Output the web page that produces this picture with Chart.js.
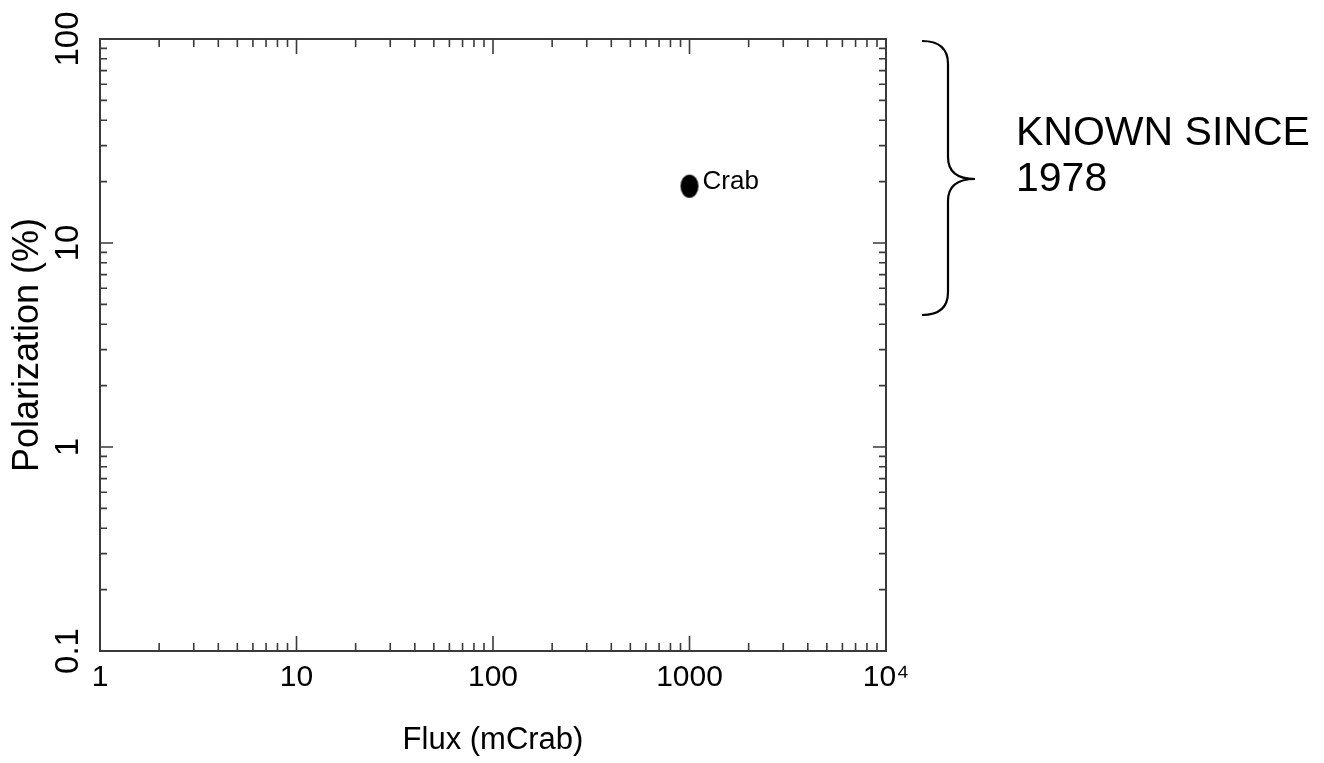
<!DOCTYPE html>
<html>
<head>
<meta charset="utf-8">
<title>Polarization vs Flux</title>
<script src="https://cdn.jsdelivr.net/npm/chart.js@4.4.1/dist/chart.umd.min.js"></script>
<style>
  html, body { margin: 0; padding: 0; background: #fff; }
  #wrap { width: 1324px; height: 763px; }
</style>
</head>
<body>
<div id="wrap"><canvas id="chart" width="1324" height="763"></canvas></div>
<script>
/* ── 1. DATA ──────────────────────────────────── */

const SOURCES      = ['Crab'];
const FLUX         = [1000];   // mCrab
const POLARIZATION = [19];     // %

const X_TICKS       = [1, 10, 100, 1000, 10000];
const X_TICK_LABELS = ['1', '10', '100', '1000', '10⁴'];
const Y_TICKS       = [0.1, 1, 10, 100];
const Y_TICK_LABELS = ['0.1', '1', '10', '100'];
const MINOR_STEPS   = [2, 3, 4, 5, 6, 7, 8, 9];

const NOTE_LINES = ['KNOWN SINCE', '1978'];

const FONT = "'Liberation Sans', Arial, Helvetica, sans-serif";
const AXIS_COLOR = '#3a3a3a';

/* ── 2. HELPERS ───────────────────────────────── */

// slightly tall filled dot, like the original marker
function makeDot() {
  const c = document.createElement('canvas');
  c.width = 20; c.height = 25;
  const g = c.getContext('2d');
  g.fillStyle = '#000';
  g.beginPath();
  g.ellipse(10, 12.5, 9, 11.5, 0, 0, Math.PI * 2);
  g.fill();
  return c;
}

function minorValues(decades) {
  const out = [];
  decades.slice(0, -1).forEach(d => MINOR_STEPS.forEach(m => out.push(d * m)));
  return out;
}

/* ── 3. PLUGINS ───────────────────────────────── */

// box frame with inward ticks on all four sides
const framePlugin = {
  id: 'frame',
  afterDraw(chart) {
    const { ctx, chartArea: a, scales: { x, y } } = chart;
    ctx.save();
    ctx.strokeStyle = AXIS_COLOR;
    ctx.lineWidth = 2;
    ctx.strokeRect(a.left, a.top, a.right - a.left, a.bottom - a.top);

    ctx.lineWidth = 1.6;
    ctx.beginPath();
    const xTick = (v, len) => {
      const px = x.getPixelForValue(v);
      ctx.moveTo(px, a.bottom); ctx.lineTo(px, a.bottom - len);
      ctx.moveTo(px, a.top);    ctx.lineTo(px, a.top + len);
    };
    const yTick = (v, len) => {
      const py = y.getPixelForValue(v);
      ctx.moveTo(a.left, py);  ctx.lineTo(a.left + len, py);
      ctx.moveTo(a.right, py); ctx.lineTo(a.right - len, py);
    };
    X_TICKS.forEach(v => xTick(v, 15));
    minorValues(X_TICKS).forEach(v => xTick(v, 8));
    Y_TICKS.forEach(v => yTick(v, 13));
    minorValues(Y_TICKS).forEach(v => yTick(v, 7));
    ctx.stroke();
    ctx.restore();
  }
};

// source names, brace and side note
const notesPlugin = {
  id: 'notes',
  afterDatasetsDraw(chart) {
    const ctx = chart.ctx;
    const meta = chart.getDatasetMeta(0);
    ctx.save();
    ctx.fillStyle = '#000';
    ctx.font = `26px ${FONT}`;
    ctx.textBaseline = 'alphabetic';
    meta.data.forEach((pt, i) => ctx.fillText(SOURCES[i], pt.x + 13, pt.y + 3));

    // curly brace
    ctx.strokeStyle = '#000';
    ctx.lineWidth = 2.2;
    ctx.beginPath();
    ctx.moveTo(922, 41);
    ctx.quadraticCurveTo(948, 41, 948, 64);
    ctx.lineTo(948, 157);
    ctx.quadraticCurveTo(948, 179, 975, 179);
    ctx.quadraticCurveTo(948, 179, 948, 201);
    ctx.lineTo(948, 292);
    ctx.quadraticCurveTo(948, 315, 922, 315);
    ctx.stroke();

    ctx.font = `41px ${FONT}`;
    ctx.fillText(NOTE_LINES[0], 1016, 145);
    ctx.fillText(NOTE_LINES[1], 1016, 191);
    ctx.restore();
  }
};

/* ── 4. CHART ─────────────────────────────────── */

new Chart(document.getElementById('chart'), {
  type: 'scatter',
  data: {
    datasets: [{
      label: 'Sources',
      data: FLUX.map((f, i) => ({ x: f, y: POLARIZATION[i] })),
      pointStyle: makeDot(),
      pointRadius: 10,
      showLine: false
    }]
  },
  options: {
    responsive: false,
    animation: false,
    devicePixelRatio: 1,
    layout: { padding: { left: 0, top: 39, right: 438, bottom: 0 } },
    plugins: { legend: { display: false }, tooltip: { enabled: false } },
    scales: {
      x: {
        type: 'logarithmic',
        min: 1, max: 10000,
        afterBuildTicks: s => { s.ticks = X_TICKS.map(v => ({ value: v })); },
        afterFit: s => { s.height = 112; },
        grid: { display: false, drawTicks: false },
        border: { display: false },
        ticks: {
          padding: 9,
          maxRotation: 0,
          color: '#000',
          font: { family: FONT, size: 30 },
          callback: (v, i) => X_TICK_LABELS[i]
        },
        title: {
          display: true,
          text: 'Flux (mCrab)',
          color: '#000',
          font: { family: FONT, size: 31 },
          padding: { top: 0, bottom: 4 }
        }
      },
      y: {
        type: 'logarithmic',
        min: 0.1, max: 100,
        afterBuildTicks: s => { s.ticks = Y_TICKS.map(v => ({ value: v })); },
        afterFit: s => { s.width = 100; },
        grid: { display: false, drawTicks: false },
        border: { display: false },
        ticks: {
          minRotation: 90,
          maxRotation: 90,
          crossAlign: 'center',
          padding: 4,
          color: '#000',
          font: { family: FONT, size: 33 },
          callback: (v, i) => Y_TICK_LABELS[i]
        },
        title: {
          display: true,
          text: 'Polarization (%)',
          color: '#000',
          font: { family: FONT, size: 36 },
          padding: { top: 6, bottom: 0 }
        }
      }
    }
  },
  plugins: [framePlugin, notesPlugin]
});
</script>
</body>
</html>
